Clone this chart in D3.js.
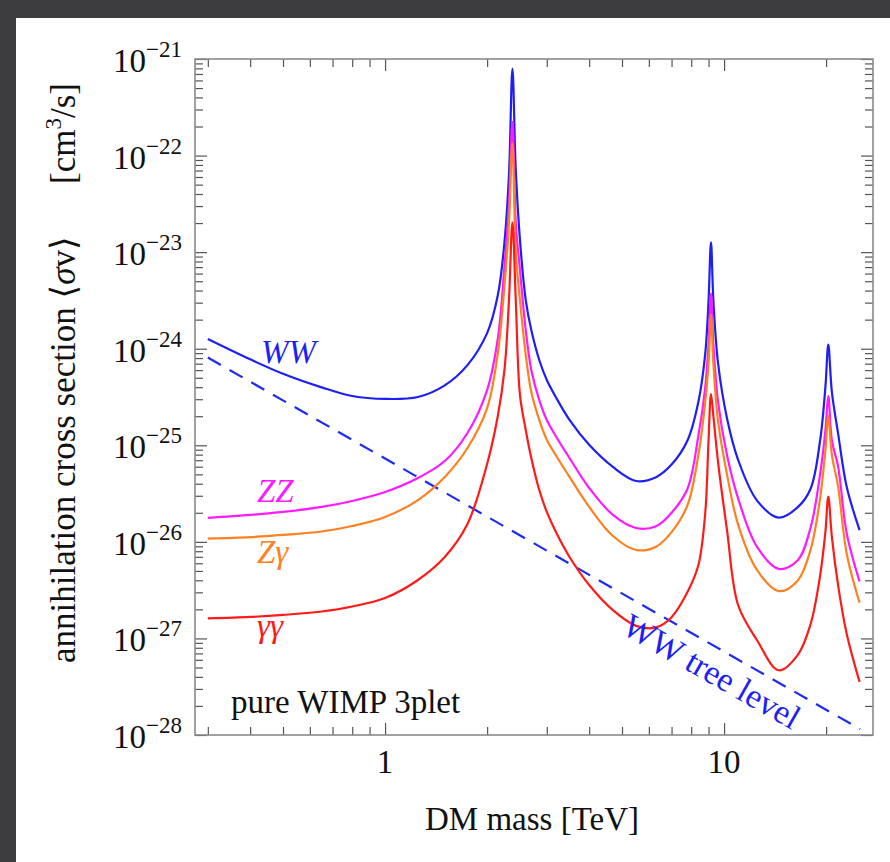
<!DOCTYPE html>
<html>
<head>
<meta charset="utf-8">
<script src="https://cdnjs.cloudflare.com/ajax/libs/d3/7.8.5/d3.min.js"></script>
<style>
  html, body { margin: 0; padding: 0; background: #3c3c3f; }
  svg { display: block; }
  text { font-family: "Liberation Serif", "DejaVu Serif", serif; }
</style>
</head>
<body>
<svg id="chart" width="890" height="862"></svg>
<script>
// ---------------- data ----------------
const mass = [0.3, 0.4, 0.5, 0.65, 0.8, 1.0, 1.25, 1.5, 1.75, 2.0,
  2.15, 2.25, 2.32, 2.375, 2.43, 2.5, 2.6, 2.7, 2.85, 3.0,
  3.2, 3.5, 4.0, 4.7, 5.5, 6.3, 7.0, 7.8, 8.4, 8.8,
  9.0, 9.15, 9.3, 9.6, 10.2, 11.0, 12.5, 14.5, 16.5, 18.0,
  19.2, 19.9, 20.3, 20.8, 21.7, 23.0, 25.1];

const ww = [1.26e-24, 7.76e-25, 5.50e-25, 3.98e-25, 3.24e-25, 3.02e-25, 3.16e-25, 4.17e-25, 6.76e-25, 1.45e-24,
  3.55e-24, 1.26e-23, 6.31e-23, 7.94e-22, 7.08e-23, 1.34e-23, 3.19e-24, 1.56e-24, 7.64e-25, 4.74e-25,
  3.09e-25, 1.83e-25, 1.01e-25, 5.96e-26, 4.27e-26, 4.68e-26, 6.31e-26, 1.12e-25, 2.82e-25, 8.91e-25,
  3.16e-24, 1.26e-23, 3.16e-24, 7.08e-25, 1.91e-25, 7.08e-26, 2.69e-26, 1.78e-26, 2.29e-26, 3.55e-26,
  1.12e-25, 3.98e-25, 1.10e-24, 3.55e-25, 1.32e-25, 3.72e-26, 1.32e-26];

const zz = [1.77e-26, 1.90e-26, 2.04e-26, 2.30e-26, 2.65e-26, 3.28e-26, 4.58e-26, 6.87e-26, 1.34e-25, 3.73e-25,
  1.26e-24, 7.08e-24, 3.16e-23, 2.24e-22, 2.00e-23, 6.53e-24, 1.56e-24, 6.03e-25, 2.94e-25, 1.83e-25,
  1.22e-25, 7.38e-26, 3.61e-26, 1.90e-26, 1.39e-26, 1.45e-26, 2.00e-26, 3.55e-26, 1.26e-25, 3.98e-25,
  1.12e-24, 3.72e-24, 1.12e-24, 2.82e-25, 7.94e-26, 2.82e-26, 8.91e-27, 5.25e-27, 6.46e-27, 1.41e-26,
  5.01e-26, 1.41e-25, 3.24e-25, 1.12e-25, 6.03e-26, 1.23e-26, 3.89e-27];

const zgamma = [1.08e-26, 1.12e-26, 1.18e-26, 1.28e-26, 1.46e-26, 1.81e-26, 2.71e-26, 4.70e-26, 9.38e-26, 2.43e-25,
  8.91e-25, 4.47e-24, 2.00e-23, 1.35e-22, 1.00e-23, 3.19e-24, 8.61e-25, 3.56e-25, 1.83e-25, 1.14e-25,
  7.75e-26, 4.70e-26, 2.30e-26, 1.15e-26, 8.24e-27, 8.91e-27, 1.26e-26, 2.40e-26, 7.94e-26, 2.82e-25,
  7.08e-25, 2.24e-24, 7.08e-25, 1.78e-25, 5.01e-26, 1.51e-26, 5.13e-27, 3.09e-27, 3.98e-27, 8.32e-27,
  2.82e-26, 8.91e-26, 2.00e-25, 7.94e-26, 3.72e-26, 7.59e-27, 2.34e-27];

const gammagamma = [1.61e-27, 1.67e-27, 1.75e-27, 1.90e-27, 2.14e-27, 2.62e-27, 4.03e-27, 6.97e-27, 1.53e-26, 6.40e-26,
  2.00e-25, 6.03e-25, 3.19e-24, 2.04e-23, 3.16e-24, 3.32e-25, 1.44e-25, 7.38e-26, 3.44e-26, 2.04e-26,
  1.24e-26, 6.97e-27, 3.57e-27, 1.96e-27, 1.35e-27, 1.30e-27, 1.66e-27, 3.02e-27, 5.75e-27, 2.00e-26,
  1.14e-25, 3.39e-25, 2.01e-25, 6.71e-26, 1.33e-26, 2.22e-27, 9.63e-28, 4.68e-28, 6.76e-28, 1.41e-27,
  4.47e-27, 1.26e-26, 2.95e-26, 1.12e-26, 3.55e-27, 1.12e-27, 3.55e-28];

const treeMass = [0.3, 25.2];
const treeWW = [8.1e-25, 1.15e-28];

const xMajorTicks = [1, 10];
const xMinorTicks = [0.3, 0.4, 0.5, 0.6, 0.7, 0.8, 0.9, 2, 3, 4, 5, 6, 7, 8, 9, 20];
const xTickLabels = ["1", "10"];
const yDecadeExps = [-28, -27, -26, -25, -24, -23, -22, -21];

// ---------------- layout ----------------
const svg = d3.select("#chart");
svg.append("rect").attr("x", 16).attr("y", 18).attr("width", 874).attr("height", 844).attr("fill", "#ffffff");

const L = 195, R = 873, T = 59, B = 735;
const x = d3.scaleLog().domain([0.275, 27.5]).range([L, R]);
const y = d3.scaleLog().domain([1e-28, 1e-21]).range([B, T]);

const yMajor = yDecadeExps.map(e => Math.pow(10, e));
const yMinor = [];
yDecadeExps.slice(0, -1).forEach(e => { for (let k = 2; k <= 9; k++) yMinor.push(k * Math.pow(10, e)); });

const tickColor = "#555";
const majLen = 12, minLen = 8;

function styleAxis(g) {
  g.select(".domain").remove();
  g.selectAll(".tick line").attr("stroke", tickColor).attr("stroke-width", 1.2);
  g.selectAll(".tick text").remove();
}
svg.append("g").attr("transform", `translate(0,${B})`).call(d3.axisBottom(x).tickValues(xMajorTicks).tickSize(-majLen)).call(styleAxis);
svg.append("g").attr("transform", `translate(0,${B})`).call(d3.axisBottom(x).tickValues(xMinorTicks).tickSize(-minLen)).call(styleAxis);
svg.append("g").attr("transform", `translate(0,${T})`).call(d3.axisTop(x).tickValues(xMajorTicks).tickSize(-majLen)).call(styleAxis);
svg.append("g").attr("transform", `translate(0,${T})`).call(d3.axisTop(x).tickValues(xMinorTicks).tickSize(-minLen)).call(styleAxis);
svg.append("g").attr("transform", `translate(${L},0)`).call(d3.axisLeft(y).tickValues(yMajor).tickSize(-majLen)).call(styleAxis);
svg.append("g").attr("transform", `translate(${L},0)`).call(d3.axisLeft(y).tickValues(yMinor).tickSize(-minLen)).call(styleAxis);
svg.append("g").attr("transform", `translate(${R},0)`).call(d3.axisRight(y).tickValues(yMajor).tickSize(-majLen)).call(styleAxis);
svg.append("g").attr("transform", `translate(${R},0)`).call(d3.axisRight(y).tickValues(yMinor).tickSize(-minLen)).call(styleAxis);

svg.append("rect").attr("x", L).attr("y", T).attr("width", R - L).attr("height", B - T)
  .attr("fill", "none").attr("stroke", "#8a8a8a").attr("stroke-width", 1.6);

// tick labels
xMajorTicks.forEach((v, i) => {
  svg.append("text").attr("x", x(v)).attr("y", B + 38).attr("text-anchor", "middle")
    .attr("font-size", 33).attr("fill", "#111").text(xTickLabels[i]);
});
yDecadeExps.forEach(e => {
  const t = svg.append("text").attr("x", 182).attr("y", y(Math.pow(10, e)) + 13)
    .attr("text-anchor", "end").attr("font-size", 33).attr("fill", "#111");
  t.append("tspan").text("10");
  t.append("tspan").attr("dy", -15).attr("font-size", 23).text("\u2212" + Math.abs(e));
});

// axis titles
svg.append("text").attr("x", 532).attr("y", 830).attr("text-anchor", "middle")
  .attr("font-size", 33).attr("fill", "#111").text("DM mass [TeV]");

const yt = svg.append("text").attr("transform", "translate(75,373) rotate(-90)")
  .attr("text-anchor", "middle").attr("font-size", 35).attr("fill", "#111");
yt.append("tspan").text("annihilation cross section \u27E8");
yt.append("tspan").attr("font-style", "italic").text("\u03C3");
yt.append("tspan").text("v\u27E9\u2003\u2002[cm");
yt.append("tspan").attr("dy", -14).attr("font-size", 23).text("3");
yt.append("tspan").attr("dy", 14).text("/s]");

// ---------------- curves ----------------
svg.append("clipPath").attr("id", "clip").append("rect")
  .attr("x", L).attr("y", T - 3).attr("width", R - L).attr("height", B - T + 3);
const plot = svg.append("g").attr("clip-path", "url(#clip)");

const line = d3.line().x(d => x(d[0])).y(d => y(d[1])).curve(d3.curveCatmullRom.alpha(0.5));

plot.append("path").datum(treeMass.map((m, i) => [m, treeWW[i]]))
  .attr("d", d3.line().x(d => x(d[0])).y(d => y(d[1])))
  .attr("fill", "none").attr("stroke", "#1f2cf0").attr("stroke-width", 2.2)
  .attr("stroke-dasharray", "15,10");

const series = [
  { vals: ww, color: "#1f1ff5" },
  { vals: zz, color: "#ff1aff" },
  { vals: zgamma, color: "#ff8020" },
  { vals: gammagamma, color: "#ff1a1a" }
];
series.forEach(s => {
  plot.append("path").datum(mass.map((m, i) => [m, s.vals[i]]))
    .attr("d", line).attr("fill", "none").attr("stroke", s.color)
    .attr("stroke-width", 2.2).attr("stroke-linejoin", "round");
});

// ---------------- labels ----------------
function lab(txt, lx, ly, color, italic) {
  svg.append("text").attr("x", lx).attr("y", ly).attr("font-size", 33)
    .attr("font-style", italic ? "italic" : "normal").attr("fill", color).text(txt);
}
lab("WW", 261, 363, "#1f1ff5", true);
lab("ZZ", 257, 502, "#ff1aff", true);
lab("Z\u03B3", 257, 563, "#ff8020", true);
lab("\u03B3\u03B3", 257, 637, "#ff1a1a", true);
lab("pure WIMP 3plet", 231, 713, "#111", false);

svg.append("text").attr("transform", "translate(712,671) rotate(29.6)")
  .attr("text-anchor", "middle").attr("dy", "0.35em").attr("font-size", 34)
  .attr("fill", "#1f1ff5").text("WW tree level");
</script>
</body>
</html>
